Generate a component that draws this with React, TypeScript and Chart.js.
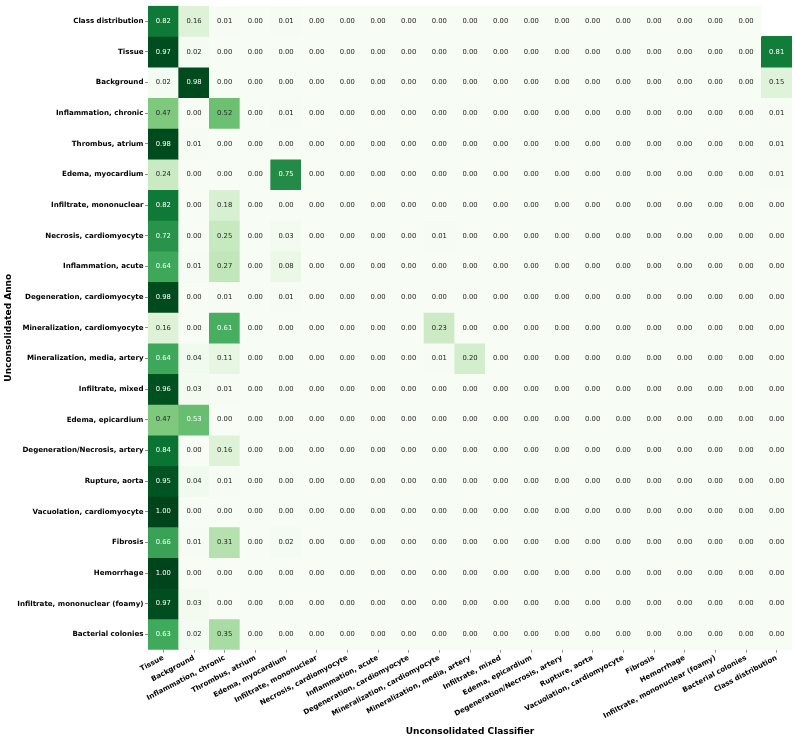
import React, { useEffect, useRef } from 'react';
import { Chart, registerables } from 'chart.js';

Chart.register(...registerables);

const rowLabels = [
  'Class distribution',
  'Tissue',
  'Background',
  'Inflammation, chronic',
  'Thrombus, atrium',
  'Edema, myocardium',
  'Infiltrate, mononuclear',
  'Necrosis, cardiomyocyte',
  'Inflammation, acute',
  'Degeneration, cardiomyocyte',
  'Mineralization, cardiomyocyte',
  'Mineralization, media, artery',
  'Infiltrate, mixed',
  'Edema, epicardium',
  'Degeneration/Necrosis, artery',
  'Rupture, aorta',
  'Vacuolation, cardiomyocyte',
  'Fibrosis',
  'Hemorrhage',
  'Infiltrate, mononuclear (foamy)',
  'Bacterial colonies',
];

const colLabels = [
  'Tissue',
  'Background',
  'Inflammation, chronic',
  'Thrombus, atrium',
  'Edema, myocardium',
  'Infiltrate, mononuclear',
  'Necrosis, cardiomyocyte',
  'Inflammation, acute',
  'Degeneration, cardiomyocyte',
  'Mineralization, cardiomyocyte',
  'Mineralization, media, artery',
  'Infiltrate, mixed',
  'Edema, epicardium',
  'Degeneration/Necrosis, artery',
  'Rupture, aorta',
  'Vacuolation, cardiomyocyte',
  'Fibrosis',
  'Hemorrhage',
  'Infiltrate, mononuclear (foamy)',
  'Bacterial colonies',
  'Class distribution',
];

const cellValues: (number | null)[][] = [
  [0.82, 0.16, 0.01, 0, 0.01, 0, 0, 0, 0, 0, 0, 0, 0, 0, 0, 0, 0, 0, 0, 0, null],
  [0.97, 0.02, 0, 0, 0, 0, 0, 0, 0, 0, 0, 0, 0, 0, 0, 0, 0, 0, 0, 0, 0.81],
  [0.02, 0.98, 0, 0, 0, 0, 0, 0, 0, 0, 0, 0, 0, 0, 0, 0, 0, 0, 0, 0, 0.15],
  [0.47, 0, 0.52, 0, 0.01, 0, 0, 0, 0, 0, 0, 0, 0, 0, 0, 0, 0, 0, 0, 0, 0.01],
  [0.98, 0.01, 0, 0, 0, 0, 0, 0, 0, 0, 0, 0, 0, 0, 0, 0, 0, 0, 0, 0, 0.01],
  [0.24, 0, 0, 0, 0.75, 0, 0, 0, 0, 0, 0, 0, 0, 0, 0, 0, 0, 0, 0, 0, 0.01],
  [0.82, 0, 0.18, 0, 0, 0, 0, 0, 0, 0, 0, 0, 0, 0, 0, 0, 0, 0, 0, 0, 0],
  [0.72, 0, 0.25, 0, 0.03, 0, 0, 0, 0, 0.01, 0, 0, 0, 0, 0, 0, 0, 0, 0, 0, 0],
  [0.64, 0.01, 0.27, 0, 0.08, 0, 0, 0, 0, 0, 0, 0, 0, 0, 0, 0, 0, 0, 0, 0, 0],
  [0.98, 0, 0.01, 0, 0.01, 0, 0, 0, 0, 0, 0, 0, 0, 0, 0, 0, 0, 0, 0, 0, 0],
  [0.16, 0, 0.61, 0, 0, 0, 0, 0, 0, 0.23, 0, 0, 0, 0, 0, 0, 0, 0, 0, 0, 0],
  [0.64, 0.04, 0.11, 0, 0, 0, 0, 0, 0, 0.01, 0.2, 0, 0, 0, 0, 0, 0, 0, 0, 0, 0],
  [0.96, 0.03, 0.01, 0, 0, 0, 0, 0, 0, 0, 0, 0, 0, 0, 0, 0, 0, 0, 0, 0, 0],
  [0.47, 0.53, 0, 0, 0, 0, 0, 0, 0, 0, 0, 0, 0, 0, 0, 0, 0, 0, 0, 0, 0],
  [0.84, 0, 0.16, 0, 0, 0, 0, 0, 0, 0, 0, 0, 0, 0, 0, 0, 0, 0, 0, 0, 0],
  [0.95, 0.04, 0.01, 0, 0, 0, 0, 0, 0, 0, 0, 0, 0, 0, 0, 0, 0, 0, 0, 0, 0],
  [1.0, 0, 0, 0, 0, 0, 0, 0, 0, 0, 0, 0, 0, 0, 0, 0, 0, 0, 0, 0, 0],
  [0.66, 0.01, 0.31, 0, 0.02, 0, 0, 0, 0, 0, 0, 0, 0, 0, 0, 0, 0, 0, 0, 0, 0],
  [1.0, 0, 0, 0, 0, 0, 0, 0, 0, 0, 0, 0, 0, 0, 0, 0, 0, 0, 0, 0, 0],
  [0.97, 0.03, 0, 0, 0, 0, 0, 0, 0, 0, 0, 0, 0, 0, 0, 0, 0, 0, 0, 0, 0],
  [0.63, 0.02, 0.35, 0, 0, 0, 0, 0, 0, 0, 0, 0, 0, 0, 0, 0, 0, 0, 0, 0, 0],
];

const GREENS = ['#f7fcf5', '#e5f5e0', '#c7e9c0', '#a1d99b', '#74c476', '#41ab5d', '#238b45', '#006d2c', '#00441b'];

function hexToRgb(h: string) {
  return [parseInt(h.slice(1, 3), 16), parseInt(h.slice(3, 5), 16), parseInt(h.slice(5, 7), 16)];
}

function greens(v: number | null): string {
  if (v == null) return 'rgba(0,0,0,0)';
  const t = Math.max(0, Math.min(1, v)) * 8;
  const i = Math.min(7, Math.floor(t));
  const f = t - i;
  const a = hexToRgb(GREENS[i]);
  const b = hexToRgb(GREENS[i + 1]);
  const c = a.map((x, k) => Math.round(x + (b[k] - x) * f));
  return `rgb(${c[0]},${c[1]},${c[2]})`;
}

const FONT = '"DejaVu Sans", Verdana, sans-serif';

const cellTextPlugin = {
  id: 'cellText',
  afterDatasetsDraw(chart: any) {
    const ctx = chart.ctx;
    ctx.save();
    ctx.font = `6.8px ${FONT}`;
    ctx.textAlign = 'center';
    ctx.textBaseline = 'middle';
    chart.data.datasets.forEach((_ds: any, i: number) => {
      const meta = chart.getDatasetMeta(i);
      meta.data.forEach((el: any, j: number) => {
        const v = cellValues[i][j];
        if (v == null) return;
        const p = el.getCenterPoint();
        ctx.fillStyle = v >= 0.525 ? '#ffffff' : '#262626';
        ctx.fillText(v.toFixed(2), p.x, p.y);
      });
    });
    ctx.restore();
  },
};

export default function App() {
  const ref = useRef<HTMLCanvasElement | null>(null);

  useEffect(() => {
    if (!ref.current) return;
    const chart = new Chart(ref.current, {
      type: 'bar',
      data: {
        labels: colLabels,
        datasets: rowLabels.map((r, i) => ({
          label: r,
          data: colLabels.map((_c, j) => (cellValues[i][j] == null ? null : [i, i + 1])) as any,
          backgroundColor: colLabels.map((_c, j) => greens(cellValues[i][j])),
          borderWidth: 0,
          grouped: false,
          barPercentage: 1,
          categoryPercentage: 1,
        })),
      },
      options: {
        animation: false,
        responsive: false,
        events: [],
        layout: { padding: { top: 5.7, right: 4, bottom: 0, left: 0 } },
        plugins: {
          legend: { display: false },
          tooltip: { enabled: false },
        },
        scales: {
          x: {
            type: 'category',
            offset: true,
            border: { display: false },
            grid: {
              display: true,
              offset: false,
              drawOnChartArea: false,
              drawTicks: true,
              tickLength: 3,
              color: 'rgba(0,0,0,0.55)',
              lineWidth: 0.8,
            },
            ticks: {
              autoSkip: false,
              minRotation: 28,
              maxRotation: 28,
              padding: 1,
              color: '#000',
              font: { family: FONT, size: 7.1, weight: 'bold' },
            },
            title: {
              display: true,
              text: 'Unconsolidated Classifier',
              color: '#000',
              font: { family: FONT, size: 9, weight: 'bold' },
              padding: { top: 0, bottom: 2 },
            },
            afterFit: (s: any) => {
              s.height = 89.3;
            },
          },
          y: {
            type: 'linear',
            min: 0,
            max: 21,
            reverse: true,
            border: { display: false },
            grid: {
              display: true,
              drawOnChartArea: false,
              drawTicks: true,
              tickLength: 3,
              color: 'rgba(0,0,0,0.55)',
              lineWidth: 0.8,
            },
            afterBuildTicks: (s: any) => {
              s.ticks = rowLabels.map((_r, i) => ({ value: i + 0.5 }));
            },
            ticks: {
              autoSkip: false,
              padding: 1.5,
              color: '#000',
              font: { family: FONT, size: 7.1, weight: 'bold' },
              callback: (v: any) => rowLabels[Math.floor(Number(v))],
            },
            title: {
              display: true,
              text: 'Unconsolidated Anno',
              color: '#000',
              font: { family: FONT, size: 9, weight: 'bold' },
              padding: { top: 3, bottom: 0 },
            },
            afterFit: (s: any) => {
              s.width = 148;
            },
          },
        },
      } as any,
      plugins: [cellTextPlugin],
    });
    return () => chart.destroy();
  }, []);

  return (
    <div style={{ position: 'absolute', left: 0, top: 0, width: 796, height: 739, background: '#fff' }}>
      <canvas ref={ref} width={796} height={739} style={{ width: 796, height: 739, display: 'block' }} />
    </div>
  );
}
